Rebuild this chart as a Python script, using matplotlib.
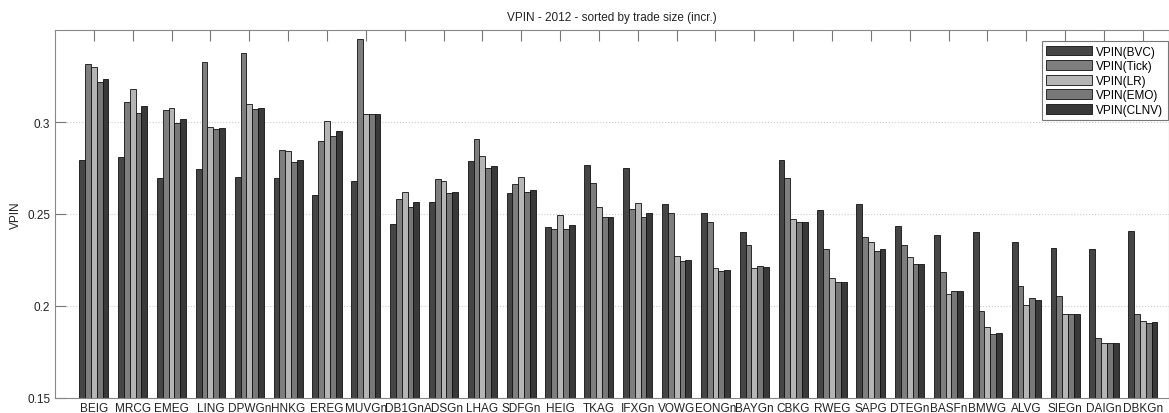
import numpy as np
import matplotlib
matplotlib.use("Agg")
import matplotlib.pyplot as plt

plt.rcParams['font.family'] = ['Liberation Sans', 'DejaVu Sans']

# stocks, sorted by trade size (increasing)
stocks = ['BEIG', 'MRCG', 'EMEG', 'LING', 'DPWGn', 'HNKG', 'EREG', 'MUVGn',
          'DB1Gn', 'ADSGn', 'LHAG', 'SDFGn', 'HEIG', 'TKAG', 'IFXGn', 'VOWG',
          'EONGn', 'BAYGn', 'CBKG', 'RWEG', 'SAPG', 'DTEGn', 'BASFn', 'BMWG',
          'ALVG', 'SIEGn', 'DAIGn', 'DBKGn']

vpin_bvc = [0.2794, 0.2810, 0.2693, 0.2747, 0.2700, 0.2695, 0.2603, 0.2679,
            0.2445, 0.2563, 0.2789, 0.2612, 0.2427, 0.2765, 0.2751, 0.2554,
            0.2503, 0.2402, 0.2792, 0.2521, 0.2554, 0.2436, 0.2384, 0.2402,
            0.2350, 0.2317, 0.2310, 0.2408]
vpin_tick = [0.3314, 0.3110, 0.3065, 0.3325, 0.3376, 0.2848, 0.2895, 0.3450,
             0.2583, 0.2689, 0.2908, 0.2662, 0.2416, 0.2668, 0.2525, 0.2505,
             0.2454, 0.2333, 0.2693, 0.2312, 0.2373, 0.2330, 0.2183, 0.1974,
             0.2110, 0.2055, 0.1824, 0.1958]
vpin_lr = [0.3300, 0.3180, 0.3074, 0.2975, 0.3096, 0.2843, 0.3007, 0.3045,
           0.2619, 0.2677, 0.2817, 0.2702, 0.2496, 0.2539, 0.2561, 0.2272,
           0.2207, 0.2205, 0.2474, 0.2151, 0.2346, 0.2268, 0.2064, 0.1885,
           0.2004, 0.1956, 0.1800, 0.1921]
vpin_emo = [0.3217, 0.3047, 0.2995, 0.2962, 0.3072, 0.2780, 0.2922, 0.3045,
            0.2536, 0.2612, 0.2751, 0.2617, 0.2420, 0.2481, 0.2483, 0.2245,
            0.2192, 0.2216, 0.2458, 0.2133, 0.2301, 0.2230, 0.2084, 0.1846,
            0.2042, 0.1958, 0.1799, 0.1907]
vpin_clnv = [0.3231, 0.3087, 0.3015, 0.2967, 0.3076, 0.2794, 0.2950, 0.3043,
             0.2563, 0.2619, 0.2762, 0.2630, 0.2442, 0.2485, 0.2507, 0.2249,
             0.2194, 0.2214, 0.2456, 0.2133, 0.2308, 0.2230, 0.2079, 0.1853,
             0.2031, 0.1958, 0.1797, 0.1912]

series = [vpin_bvc, vpin_tick, vpin_lr, vpin_emo, vpin_clnv]
labels = ['VPIN(BVC)', 'VPIN(Tick)', 'VPIN(LR)', 'VPIN(EMO)', 'VPIN(CLNV)']
colors = ['#454545', '#7e7e7e', '#b5b5b5', '#787878', '#393939']

x = np.arange(1, len(stocks) + 1)
w = 0.15

fig = plt.figure(figsize=(11.69, 4.14), dpi=100)
ax = fig.add_axes([55 / 1169, 15 / 414, 1 - 55 / 1169, 368 / 414])

for i, (vals, lab, col) in enumerate(zip(series, labels, colors)):
    ax.bar(x + (i - 2) * w, vals, width=w, color=col, edgecolor='#111111',
           linewidth=0.6, label=lab)

ax.set_xlim(0, (1169 - 55) / 38.85)
ax.set_ylim(0.15, 0.35)
ax.set_yticks([0.15, 0.2, 0.25, 0.3])
ax.set_yticklabels(['0.15', '0.2', '0.25', '0.3'])
ax.set_xticks(x)
ax.set_xticklabels(stocks)
ax.tick_params(axis='x', direction='in', top=True, bottom=False, length=8,
               color='#777777', labelsize=8.5, labelcolor='#222222', pad=3)
ax.tick_params(axis='y', direction='in', length=8, color='#777777',
               labelsize=8.5, labelcolor='#222222')
ax.set_axisbelow(True)
ax.yaxis.grid(True, linestyle=':', color='#cccccc', linewidth=0.8)
for s in ax.spines.values():
    s.set_color('#888888')

ax.set_ylabel('VPIN', fontsize=8.5, color='#222222', labelpad=4)
ax.set_title('VPIN - 2012 - sorted by trade size (incr.)', fontsize=8.5,
             color='#222222', pad=7)

leg = ax.legend(loc='upper right', bbox_to_anchor=(1.004, 0.985), fontsize=8.5,
                fancybox=False, framealpha=1, edgecolor='#777777',
                handlelength=3.9, handleheight=0.9, labelspacing=0.22,
                borderpad=0.35, handletextpad=0.35)
leg.get_frame().set_linewidth(0.8)

fig.savefig('out.png', dpi=100)
